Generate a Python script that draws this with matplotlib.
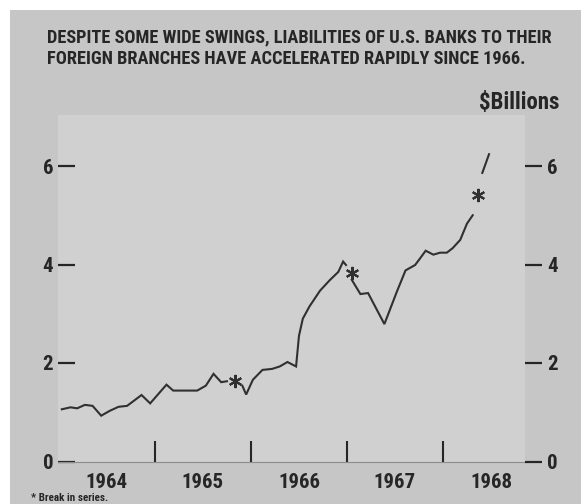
import matplotlib
matplotlib.use("Agg")
import matplotlib.pyplot as plt
from matplotlib.patches import Rectangle

# liabilities of U.S. banks to foreign branches, $ billions
seg1_years = [1964.03, 1964.12, 1964.19, 1964.27, 1964.35, 1964.44, 1964.53, 1964.62,
              1964.71, 1964.86, 1964.95, 1965.12, 1965.19, 1965.44, 1965.53, 1965.61,
              1965.69, 1965.75]
seg1_values = [1.06, 1.10, 1.08, 1.15, 1.13, 0.93, 1.03, 1.11,
               1.13, 1.35, 1.18, 1.56, 1.44, 1.44, 1.54, 1.78,
               1.61, 1.63]

seg2_years = [1965.91, 1965.95, 1966.02, 1966.12, 1966.22, 1966.30, 1966.38, 1966.47,
              1966.50, 1966.54, 1966.61, 1966.72, 1966.82, 1966.91, 1966.96, 1966.99]
seg2_values = [1.54, 1.36, 1.66, 1.86, 1.88, 1.93, 2.02, 1.93,
               2.55, 2.90, 3.15, 3.47, 3.68, 3.85, 4.06, 3.99]

seg3_years = [1967.05, 1967.14, 1967.22, 1967.39, 1967.52, 1967.61, 1967.71, 1967.76,
              1967.82, 1967.90, 1967.97, 1968.04, 1968.10, 1968.18, 1968.25, 1968.31]
seg3_values = [3.69, 3.40, 3.42, 2.79, 3.45, 3.88, 3.99, 4.12,
               4.28, 4.20, 4.24, 4.24, 4.33, 4.50, 4.83, 5.00]

seg4_years = [1968.41, 1968.48]
seg4_values = [5.86, 6.24]

# "break in series" asterisks
break_years = [1965.83, 1967.05, 1968.37]
break_values = [1.63, 3.83, 5.41]

year_labels = ["1964", "1965", "1966", "1967", "1968"]
y_ticks = [0, 2, 4, 6]

outer_bg = "#c6c6c6"
panel_bg = "#d0d0d0"
ink = "#262626"
FONT = ["Roboto Condensed", "DejaVu Sans"]

W, H = 581, 504
fig = plt.figure(figsize=(W / 100, H / 100), dpi=100, facecolor="white")
fig.patches.append(Rectangle((10 / W, 0), 1, 1 - 10 / H, transform=fig.transFigure,
                             facecolor=outer_bg, edgecolor="none", zorder=-10))

ax = fig.add_axes([58 / W, 1 - 461.5 / H, (525 - 58) / W, (461.5 - 115) / H])
ax.set_facecolor(panel_bg)
ax.set_xlim(1963.99, 1963.99 + 467 / 96)
ax.set_ylim(0, 346.5 / 49.25)

for xs, ys in [(seg1_years, seg1_values), (seg2_years, seg2_values),
               (seg3_years, seg3_values), (seg4_years, seg4_values)]:
    ax.plot(xs, ys, color="#303030", lw=1.5, solid_joinstyle="miter")
ax.plot(break_years, break_values, linestyle="none", marker=(6, 2, 0),
        markersize=9.5, markeredgewidth=1.5, color="#303030")

for s in ["top", "right", "left"]:
    ax.spines[s].set_visible(False)
ax.spines["bottom"].set_color("#8c8c8c")
ax.spines["bottom"].set_linewidth(0.8)

txt = dict(fontweight="bold", color=ink, family=FONT)

# year dividers and labels
ax.set_xticks([1965, 1966, 1967, 1968])
ax.set_xticklabels([])
ax.tick_params(axis="x", which="major", direction="in", length=15, width=1.5, color=ink)
ax.set_xticks([1964.5 + i for i in range(5)], minor=True)
ax.set_xticklabels(year_labels, minor=True, fontsize=15, **txt)
ax.tick_params(axis="x", which="minor", length=0, pad=8)

ax.set_yticks(y_ticks)
ax.set_yticklabels([str(v) for v in y_ticks], fontsize=15, **txt)
ax.tick_params(axis="y", direction="in", length=12, width=1.6, color=ink, pad=3.5)

ax2 = ax.twinx()
ax2.set_ylim(ax.get_ylim())
for s in ax2.spines.values():
    s.set_visible(False)
ax2.set_yticks(y_ticks)
ax2.set_yticklabels([str(v) for v in y_ticks], fontsize=15, **txt)
ax2.tick_params(axis="y", direction="out", length=12, width=1.6, color=ink, pad=4)

fig.text(47 / W, 1 - 42 / H, "DESPITE SOME WIDE SWINGS, LIABILITIES OF U.S. BANKS TO THEIR",
         fontsize=13.2, va="baseline", **txt)
fig.text(47 / W, 1 - 64 / H, "FOREIGN BRANCHES HAVE ACCELERATED RAPIDLY SINCE 1966.",
         fontsize=13.2, va="baseline", **txt)
fig.text(559 / W, 1 - 109 / H, "$Billions", fontsize=16.5, ha="right", va="baseline", **txt)
fig.text(31 / W, 1 - 501 / H, "* Break in series.", fontsize=8, va="baseline", **txt)

fig.savefig("out.png", dpi=100, facecolor=fig.get_facecolor())
